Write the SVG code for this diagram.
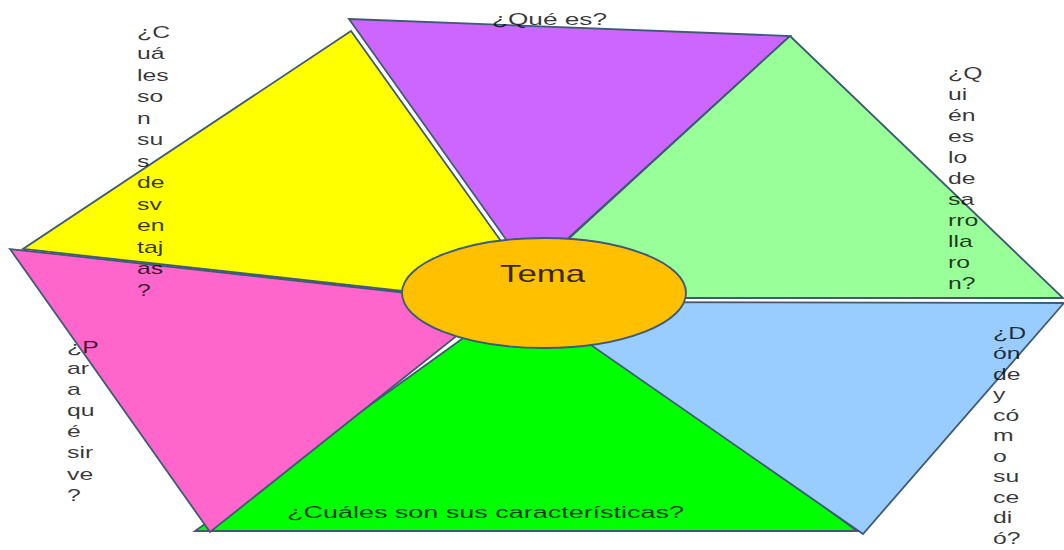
<svg xmlns="http://www.w3.org/2000/svg" width="1064" height="550" viewBox="0 0 1064 550">
<style>
.sh{stroke:#3E5A74;stroke-width:1.8;stroke-linejoin:miter}
.t{font-family:"Liberation Sans",Arial,sans-serif;font-size:16px;fill:#000;fill-opacity:.78}
.tm{font-family:"Liberation Sans",Arial,sans-serif;font-size:24px;fill:#3a2810}
</style>
<rect width="1064" height="550" fill="#fff"/>
<g id="segments">
<polygon id="purple" class="sh" fill="#CC66FF" points="349,19 790,36 530,273"/>
<polygon id="yellow" class="sh" fill="#FFFF00" points="351,31 23,249 548,307"/>
<polygon id="lightgreen" class="sh" fill="#99FF99" points="790,36 1063,298 504,298"/>
<polygon id="green" class="sh" fill="#00FF00" points="195,531 857,531 530,290"/>
<polygon id="pink" class="sh" fill="#FF66CC" points="10,249 210,532 498,303"/>
<polygon id="blue" class="sh" fill="#99CCFF" points="529,302 1064,303 863,534"/>
</g>
<g id="center">
<ellipse class="sh" cx="544" cy="293" rx="142" ry="55" fill="#FFC000" stroke-width="2"/>
<text class="tm" x="500" y="282" textLength="85" lengthAdjust="spacingAndGlyphs">Tema</text>
</g>
<g id="label-que">
<text class="t" x="492" y="25" textLength="115" lengthAdjust="spacingAndGlyphs">¿Qué es?</text>
</g>
<g id="label-caracteristicas">
<text class="t" x="287" y="518" font-size="17" textLength="397" lengthAdjust="spacingAndGlyphs">¿Cuáles son sus características?</text>
</g>
<g id="label-desventajas" transform="translate(137,0) scale(1.55,1)">
<text class="t"><tspan x="0" y="38">¿C</tspan><tspan x="0" dy="21.5">uá</tspan><tspan x="0" dy="21.5">les</tspan><tspan x="0" dy="21.5">so</tspan><tspan x="0" dy="21.5">n</tspan><tspan x="0" dy="21.5">su</tspan><tspan x="0" dy="21.5">s</tspan><tspan x="0" dy="21.5">de</tspan><tspan x="0" dy="21.5">sv</tspan><tspan x="0" dy="21.5">en</tspan><tspan x="0" dy="21.5">taj</tspan><tspan x="0" dy="21.5">as</tspan><tspan x="0" dy="21.5">?</tspan></text>
</g>
<g id="label-quien" transform="translate(948,0) scale(1.55,1)">
<text class="t"><tspan x="0" y="79">¿Q</tspan><tspan x="0" dy="21">ui</tspan><tspan x="0" dy="21">én</tspan><tspan x="0" dy="21">es</tspan><tspan x="0" dy="21">lo</tspan><tspan x="0" dy="21">de</tspan><tspan x="0" dy="21">sa</tspan><tspan x="0" dy="21">rro</tspan><tspan x="0" dy="21">lla</tspan><tspan x="0" dy="21">ro</tspan><tspan x="0" dy="21">n?</tspan></text>
</g>
<g id="label-donde" transform="translate(993,0) scale(1.55,1)">
<text class="t"><tspan x="0" y="339">¿D</tspan><tspan x="0" dy="20.5">ón</tspan><tspan x="0" dy="20.5">de</tspan><tspan x="0" dy="20.5">y</tspan><tspan x="0" dy="20.5">có</tspan><tspan x="0" dy="20.5">m</tspan><tspan x="0" dy="20.5">o</tspan><tspan x="0" dy="20.5">su</tspan><tspan x="0" dy="20.5">ce</tspan><tspan x="0" dy="20.5">di</tspan><tspan x="0" dy="20.5">ó?</tspan></text>
</g>
<g id="label-para" transform="translate(67,0) scale(1.55,1)">
<text class="t"><tspan x="0" y="353">¿P</tspan><tspan x="0" dy="21.1">ar</tspan><tspan x="0" dy="21.1">a</tspan><tspan x="0" dy="21.1">qu</tspan><tspan x="0" dy="21.1">é</tspan><tspan x="0" dy="21.1">sir</tspan><tspan x="0" dy="21.1">ve</tspan><tspan x="0" dy="21.1">?</tspan></text>
</g>
</svg>
